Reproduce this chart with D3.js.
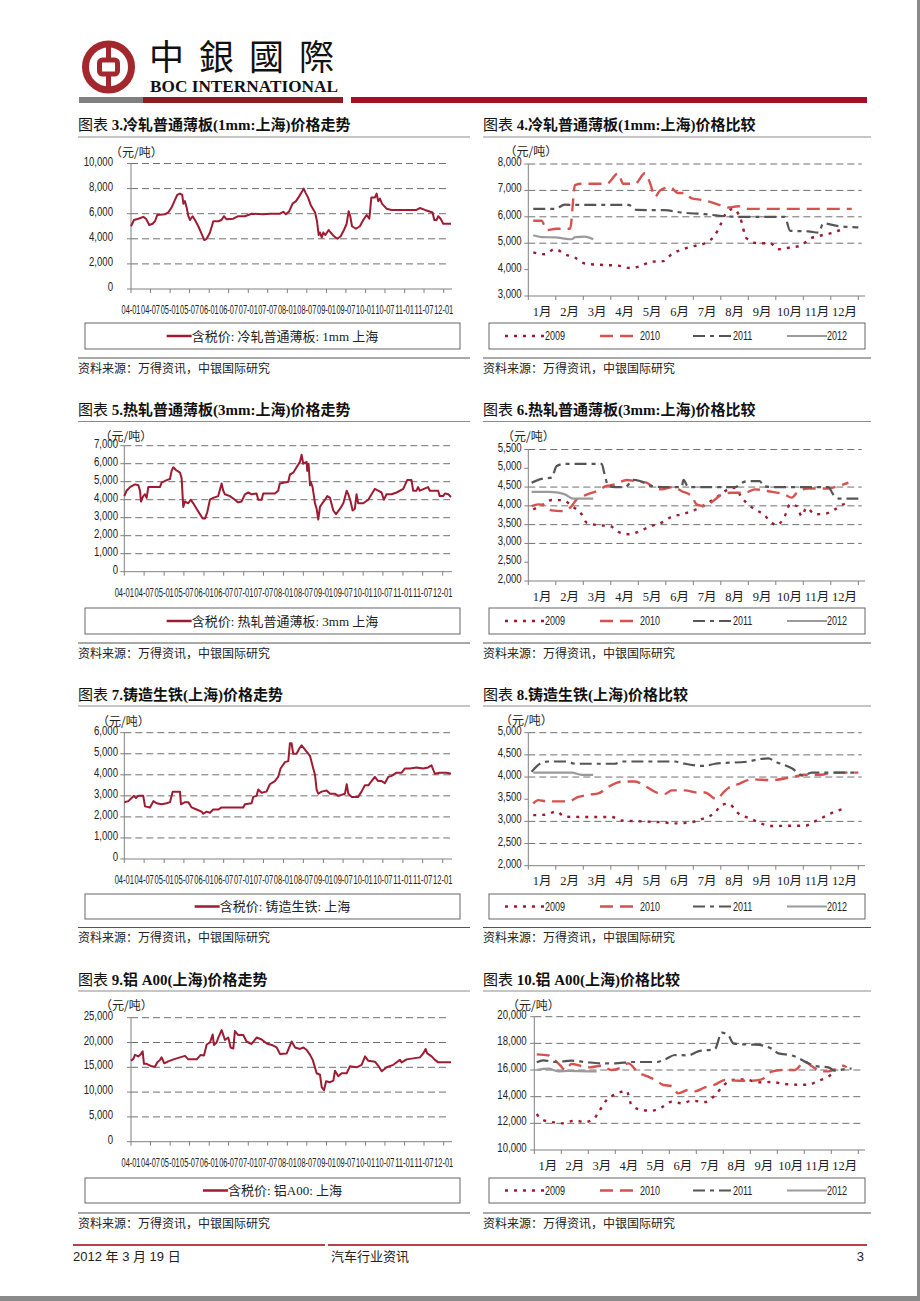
<!DOCTYPE html>
<html><head><meta charset="utf-8">
<script src="https://cdn.jsdelivr.net/npm/d3@7"></script>
<style>body{margin:0;background:#fff} svg{display:block}</style>
</head><body>
<script>
// ---------------- DATA ----------------
const dateTickLabels = ["04-01","04-07","05-01","05-07","06-01","06-07","07-01","07-07","08-01","08-07","09-01","09-07","10-01","10-07","11-01","11-07","12-01"];
const monthLabels = ["1月","2月","3月","4月","5月","6月","7月","8月","9月","10月","11月","12月"];
const yearLabels = ["2009","2010","2011","2012"];

const coldRolled1mm = [["2004-01-01",5000],["2004-01-29",5500],["2004-03-10",5600],["2004-04-25",5750],["2004-05-20",5600],["2004-06-20",5100],["2004-07-21",5200],["2004-08-12",5400],["2004-09-03",5900],["2004-11-13",5950],["2004-12-14",6100],["2005-01-15",6500],["2005-02-15",7100],["2005-03-08",7500],["2005-04-02",7600],["2005-04-24",7500],["2005-05-04",6800],["2005-05-19",7000],["2005-06-04",6500],["2005-06-20",5800],["2005-07-05",5500],["2005-07-30",5800],["2005-08-21",5500],["2005-09-21",5000],["2005-10-22",4400],["2005-11-16",3900],["2005-12-08",4000],["2006-01-08",4500],["2006-02-08",5400],["2006-03-26",5400],["2006-04-26",5500],["2006-05-18",5800],["2006-06-12",5550],["2006-08-13",5600],["2006-09-29",5800],["2006-11-30",5800],["2007-02-01",6000],["2007-05-21",5950],["2007-07-22",6000],["2007-10-24",6000],["2007-11-24",6150],["2007-12-19",5950],["2008-01-19",6200],["2008-02-19",6800],["2008-03-22",7000],["2008-04-22",7400],["2008-05-20",7800],["2008-06-02",8000],["2008-06-17",7700],["2008-07-12",7300],["2008-08-06",6700],["2008-09-16",6100],["2008-10-04",5400],["2008-10-20",4300],["2008-11-01",4500],["2008-11-17",4100],["2008-12-02",4500],["2008-12-21",4300],["2009-01-21",4700],["2009-02-09",4500],["2009-03-12",4200],["2009-04-12",4000],["2009-05-13",4200],["2009-06-13",4700],["2009-07-08",5200],["2009-07-27",6200],["2009-08-11",5800],["2009-08-27",5000],["2009-10-03",4800],["2009-11-09",5000],["2009-12-10",5500],["2010-01-11",5900],["2010-02-05",5600],["2010-02-24",7300],["2010-03-30",7300],["2010-04-14",7600],["2010-04-29",7000],["2010-05-15",7200],["2010-06-03",6800],["2010-07-16",6400],["2010-09-01",6300],["2011-04-22",6300],["2011-05-23",6450],["2011-07-09",6300],["2011-09-19",6100],["2011-10-05",5500],["2011-10-27",5500],["2011-11-11",5800],["2011-12-03",5600],["2011-12-28",5200],["2012-03-09",5200]];

const hotRolled3mm = [["2004-01-01",4200],["2004-01-22",4500],["2004-02-22",4700],["2004-04-08",4850],["2004-05-09",4800],["2004-05-24",4500],["2004-06-02",3900],["2004-06-23",4200],["2004-07-09",4300],["2004-07-24",4100],["2004-08-08",4700],["2004-11-23",4700],["2004-12-08",4950],["2005-01-30",5100],["2005-02-23",5150],["2005-03-10",5600],["2005-03-26",5800],["2005-04-19",5650],["2005-05-26",5500],["2005-06-10",5200],["2005-06-25",3600],["2005-07-10",3900],["2005-08-10",3800],["2005-09-01",4000],["2005-09-25",3800],["2005-10-25",3500],["2005-11-25",3200],["2005-12-20",2950],["2006-01-10",2950],["2006-01-31",3300],["2006-02-25",4000],["2006-03-27",4100],["2006-05-12",4200],["2006-06-12",4900],["2006-06-27",4500],["2006-07-12",4300],["2006-08-27",4200],["2006-10-12",4000],["2006-11-11",3850],["2006-12-12",3900],["2007-01-12",4300],["2007-02-12",4400],["2007-03-14",4300],["2007-04-29",4350],["2007-05-14",4000],["2007-06-14",4000],["2007-06-29",4350],["2007-10-14",4350],["2007-11-13",4500],["2007-11-28",4900],["2008-02-14",5000],["2008-02-29",5400],["2008-03-30",5500],["2008-04-30",5800],["2008-05-31",6100],["2008-06-15",6500],["2008-06-30",6000],["2008-07-31",6100],["2008-08-06",5600],["2008-08-18",6000],["2008-08-31",4800],["2008-09-06",5000],["2008-09-24",4700],["2008-10-16",3800],["2008-10-31",3500],["2008-11-15",2900],["2008-12-01",3600],["2008-12-22",3800],["2009-01-16",4000],["2009-02-06",4200],["2009-03-03",4100],["2009-04-02",3400],["2009-04-27",3200],["2009-06-03",3500],["2009-07-03",3800],["2009-08-03",4500],["2009-08-18",4300],["2009-09-08",3900],["2009-09-26",3400],["2009-10-17",3500],["2009-11-01",4300],["2009-11-16",3800],["2010-01-02",3800],["2010-02-17",4000],["2010-03-19",4300],["2010-04-18",4600],["2010-05-19",4500],["2010-06-19",4400],["2010-07-10",4000],["2010-08-04",4300],["2010-09-19",4300],["2010-11-04",4400],["2011-01-04",4600],["2011-02-10",5100],["2011-03-20",5100],["2011-04-05",4500],["2011-05-05",4500],["2011-05-20",4700],["2011-06-05",4500],["2011-08-20",4700],["2011-09-05",4500],["2011-11-20",4500],["2011-12-05",4200],["2012-01-06",4200],["2012-01-21",4350],["2012-02-21",4300],["2012-03-17",4150]];

const pigIron = [["2004-01-01",2700],["2004-02-07",2750],["2004-03-08",2900],["2004-03-30",3000],["2004-04-17",2900],["2004-05-09",3000],["2004-06-23",3000],["2004-07-09",2500],["2004-08-24",2450],["2004-09-24",2750],["2004-10-24",2650],["2004-12-08",2600],["2005-01-24",2650],["2005-02-23",2700],["2005-03-20",3200],["2005-05-26",3200],["2005-06-04",2600],["2005-07-10",2700],["2005-08-10",2700],["2005-09-10",2450],["2005-10-25",2350],["2005-12-10",2250],["2005-12-26",2150],["2006-01-25",2250],["2006-02-25",2200],["2006-03-27",2350],["2006-05-12",2350],["2006-06-12",2450],["2006-12-27",2450],["2007-01-12",2600],["2007-03-14",2650],["2007-03-29",2950],["2007-04-29",3000],["2007-05-14",3300],["2007-06-14",3150],["2007-07-29",3200],["2007-08-29",3550],["2007-10-14",3700],["2007-11-13",3900],["2007-12-05",4300],["2008-01-14",4600],["2008-02-14",4650],["2008-02-29",5500],["2008-03-15",5500],["2008-03-30",5000],["2008-04-30",5000],["2008-05-25",5250],["2008-06-15",5400],["2008-06-30",5300],["2008-07-31",5100],["2008-08-31",4900],["2008-09-30",4300],["2008-10-16",4000],["2008-10-31",3300],["2008-11-15",3100],["2008-12-16",3200],["2009-01-31",3250],["2009-03-03",3100],["2009-04-18",3100],["2009-05-18",3000],["2009-07-18",3100],["2009-08-03",3550],["2009-08-18",3100],["2009-09-17",2950],["2009-11-16",2950],["2009-12-17",3200],["2010-01-17",3500],["2010-02-17",3500],["2010-03-19",3700],["2010-04-18",3900],["2010-05-19",3700],["2010-06-19",3700],["2010-07-19",3600],["2010-08-19",3900],["2010-09-19",3950],["2010-11-04",4100],["2010-12-20",4100],["2011-01-20",4300],["2011-03-07",4300],["2011-05-05",4350],["2011-07-06",4300],["2011-08-20",4350],["2011-09-20",4450],["2011-10-21",4050],["2011-12-05",4100],["2012-02-06",4100],["2012-03-17",4050]];

const aluminumA00 = [["2004-01-01",16300],["2004-01-23",16700],["2004-02-07",17500],["2004-03-09",17200],["2004-03-31",17600],["2004-04-19",18200],["2004-05-01",15700],["2004-05-26",15700],["2004-07-12",15200],["2004-08-12",15100],["2004-09-03",16000],["2004-09-28",16500],["2004-10-13",17000],["2004-11-07",15800],["2004-12-14",16200],["2005-01-31",16600],["2005-04-03",17000],["2005-05-20",17300],["2005-06-20",16600],["2005-09-06",16600],["2005-10-13",17500],["2005-11-13",17400],["2005-12-08",19600],["2006-01-08",20000],["2006-02-02",21600],["2006-02-14",19500],["2006-03-11",20000],["2006-03-27",21000],["2006-04-27",22500],["2006-05-28",20500],["2006-06-28",21000],["2006-07-20",19000],["2006-08-14",18800],["2006-08-29",22300],["2006-09-29",21500],["2006-11-15",21500],["2006-12-16",20200],["2007-02-01",19700],["2007-03-20",21000],["2007-05-06",20600],["2007-06-22",19800],["2007-08-08",19500],["2007-09-23",19000],["2007-10-24",17700],["2007-12-26",17800],["2008-02-10",20200],["2008-03-13",19000],["2008-04-28",18700],["2008-05-30",19000],["2008-06-30",18500],["2008-07-31",17500],["2008-08-25",16500],["2008-10-01",13800],["2008-11-01",13500],["2008-11-17",11000],["2008-12-09",10400],["2008-12-28",12200],["2009-02-03",12000],["2009-03-06",12300],["2009-03-21",14300],["2009-04-21",13200],["2009-05-22",13800],["2009-07-08",13800],["2009-08-08",15200],["2009-10-10",15000],["2009-11-25",15500],["2009-12-27",17200],["2010-01-27",16300],["2010-03-31",16100],["2010-04-30",15300],["2010-06-01",14200],["2010-07-17",15000],["2010-09-17",15500],["2010-11-18",16500],["2010-12-04",16000],["2011-01-20",16600],["2011-05-24",17000],["2011-06-24",17800],["2011-07-16",18700],["2011-07-31",17800],["2011-09-10",17200],["2011-10-11",16500],["2011-11-11",16000],["2012-03-09",16000]];

// comparison charts: [month position (0 = start of Jan, 12 = end of Dec), price]
const cold2009 = [[0.18,4650],[0.6,4580],[0.97,4780],[1.33,4580],[1.7,4450],[2.06,4230],[2.48,4190],[2.85,4170],[3.27,4150],[3.7,4060],[4.06,4130],[4.48,4300],[4.91,4320],[5.21,4580],[5.64,4780],[6.06,4900],[6.42,5000],[6.79,5310],[6.99,5700],[7.15,6070],[7.45,6300],[7.7,5980],[7.94,5180],[8.36,5000],[8.79,5000],[9.09,4770],[9.58,4850],[9.88,4900],[10.3,5200],[10.67,5300],[11.09,5400],[11.52,5590]];
const cold2010 = [[0.18,5850],[0.48,5850],[0.67,5500],[1.03,5550],[1.52,5550],[1.7,7200],[1.94,7250],[2.85,7250],[3.27,7650],[3.45,7250],[3.88,7250],[4.24,7650],[4.42,7300],[4.61,6760],[4.79,7000],[5.15,7120],[5.45,6900],[5.7,6900],[5.94,6700],[6.3,6640],[6.67,6550],[7.03,6420],[7.27,6350],[7.64,6400],[8.0,6300],[11.76,6300]];
const cold2011 = [[0.18,6300],[0.97,6300],[1.33,6460],[1.7,6450],[3.64,6450],[3.94,6260],[4.97,6250],[5.58,6160],[6.42,6100],[7.03,6030],[7.76,6000],[9.33,6000],[9.52,5470],[10.18,5450],[10.55,5400],[10.73,5750],[11.27,5650],[12.0,5600]];
const cold2012 = [[0.18,5300],[0.48,5230],[0.97,5220],[1.58,5150],[1.7,5230],[2.06,5250],[2.36,5150]];

const hot2009 = [[0.18,3905],[0.55,4040],[0.85,4155],[1.27,4150],[1.58,3995],[1.94,3775],[2.12,3555],[2.55,3485],[2.97,3465],[3.27,3305],[3.7,3245],[4.06,3330],[4.48,3465],[4.85,3555],[5.21,3710],[5.58,3775],[5.94,3860],[6.24,3950],[6.55,4085],[6.91,4260],[7.27,4440],[7.52,4480],[7.76,4215],[8.0,4040],[8.24,3905],[8.55,3775],[8.85,3555],[9.03,3485],[9.33,3730],[9.52,4040],[9.76,3995],[9.94,3730],[10.12,3950],[10.42,3775],[10.85,3800],[11.15,3905],[11.45,4040],[11.58,4050]];
const hot2010 = [[0.12,3995],[0.36,4040],[0.67,3980],[0.85,3880],[1.21,3860],[1.52,3950],[1.76,4170],[2.12,4300],[2.48,4390],[2.85,4530],[3.15,4570],[3.58,4690],[3.88,4660],[4.3,4620],[4.48,4530],[4.85,4440],[5.27,4500],[5.58,4390],[5.94,4260],[6.12,4040],[6.42,3995],[6.79,4170],[7.03,4300],[7.39,4350],[7.88,4350],[8.24,4440],[8.73,4390],[9.33,4300],[9.58,4220],[9.82,4390],[10.18,4460],[10.91,4460],[11.27,4530],[11.64,4615]];
const hot2011 = [[0.12,4615],[0.48,4720],[0.85,4750],[1.03,5060],[1.33,5120],[2.67,5120],[2.76,4880],[2.91,4530],[3.15,4500],[3.52,4500],[3.82,4690],[4.06,4660],[4.48,4530],[4.85,4500],[5.58,4500],[5.64,4690],[5.82,4500],[7.52,4500],[7.76,4610],[8.0,4660],[8.42,4660],[8.55,4530],[8.85,4500],[10.91,4500],[11.09,4300],[11.33,4190],[12.0,4190]];
const hot2012 = [[0.12,4370],[0.73,4370],[1.09,4350],[1.33,4305],[1.64,4190],[2.36,4190]];

const iron2009 = [[0.18,3140],[0.61,3150],[1.03,3220],[1.33,3105],[1.94,3100],[3.03,3100],[3.39,3020],[4.12,3000],[4.85,2980],[5.33,2955],[5.82,2970],[6.3,3050],[6.79,3200],[7.03,3370],[7.27,3400],[7.64,3180],[8.12,3050],[8.48,2950],[8.85,2895],[9.58,2900],[10.06,2900],[10.42,3000],[10.91,3150],[11.15,3220],[11.58,3300]];
const iron2010 = [[0.18,3405],[0.36,3480],[0.67,3450],[1.45,3450],[1.82,3550],[2.18,3600],[2.55,3630],[2.91,3780],[3.39,3895],[3.88,3900],[4.24,3800],[4.67,3650],[4.97,3620],[5.21,3700],[5.7,3700],[6.12,3650],[6.42,3650],[6.85,3500],[7.09,3650],[7.27,3750],[7.64,3840],[8.12,3950],[8.85,3930],[9.58,4000],[10.06,4050],[10.67,4050],[11.03,4100],[12.0,4100]];
const iron2011 = [[0.12,4120],[0.48,4320],[0.73,4350],[1.33,4350],[1.7,4300],[3.15,4300],[3.39,4350],[5.33,4350],[5.7,4300],[6.42,4250],[6.79,4300],[8.0,4350],[8.36,4400],[8.73,4420],[8.97,4350],[9.58,4200],[10.0,4030],[10.3,4100],[12.0,4100]];
const iron2012 = [[0.18,4100],[1.58,4100],[1.94,4050],[2.36,4050]];

const alu2009 = [[0.09,12700],[0.27,12300],[0.64,12100],[1.01,12000],[1.51,12200],[1.88,12100],[2.19,12300],[2.43,13000],[2.68,13750],[2.99,14175],[3.42,14425],[3.6,13375],[3.98,13000],[4.35,12950],[4.72,13200],[5.09,13625],[5.46,13500],[5.83,13700],[6.32,13600],[6.69,14100],[7.0,14825],[7.31,15250],[7.8,15300],[8.3,15075],[8.79,15100],[9.28,14950],[9.78,14900],[10.15,14900],[10.52,15200],[10.89,15500],[11.07,15800]];
const alu2010 = [[0.09,17175],[0.52,17100],[0.77,16700],[0.95,16375],[1.14,16000],[1.38,16450],[1.75,16300],[2.06,16200],[2.49,16325],[2.86,16000],[3.23,16200],[3.48,16500],[3.85,15825],[4.22,15500],[4.53,15200],[4.78,14875],[5.09,14800],[5.33,14250],[5.7,14500],[5.95,14400],[6.32,14700],[6.69,14900],[7.06,15250],[7.56,15200],[8.05,15200],[8.42,15300],[8.79,15875],[9.16,16000],[9.65,16000],[10.02,16625],[10.27,16300],[10.64,15900],[10.89,15900],[11.2,16100],[11.44,16325],[11.57,16200]];
const alu2011 = [[0.09,16575],[0.33,16725],[0.77,16600],[1.38,16700],[1.88,16600],[2.49,16500],[2.99,16500],[3.6,16600],[4.53,16600],[4.84,16800],[5.21,17125],[5.7,17100],[6.07,17400],[6.69,17575],[6.94,18800],[7.19,18600],[7.37,18000],[7.68,17925],[8.17,17900],[8.54,17800],[8.79,17600],[9.04,17250],[9.53,17100],[9.78,16900],[10.15,16500],[10.4,16300],[10.89,16200],[11.14,15950],[11.63,16100],[11.75,16100]];
const alu2012 = [[0.09,16000],[0.52,16100],[0.89,15900],[1.26,15925],[2.0,15900],[2.31,15900]];

const yTicks3 = [0,2000,4000,6000,8000,10000];
const yTicks5 = [0,1000,2000,3000,4000,5000,6000,7000];
const yTicks7 = [0,1000,2000,3000,4000,5000,6000];
const yTicks9 = [0,5000,10000,15000,20000,25000];
const yTicks4 = [3000,4000,5000,6000,7000,8000];
const grid4 = [5000,6000,7000,8000];
const yTicks6 = [2000,2500,3000,3500,4000,4500,5000,5500];
const grid6 = [3000,3500,4000,4500,5500];
const yTicks8 = [2000,2500,3000,3500,4000,4500,5000];
const grid8 = [2500,3000,4000,4500,5000];
const yTicks10 = [10000,12000,14000,16000,18000,20000];
const grid10 = [12000,14000,16000,18000,20000];

// ---------------- DRAWING ----------------
const NUM = "'Liberation Sans', Arial, sans-serif";
const CJK = "'Noto Sans CJK SC', sans-serif";
const SERIFCJK = "'Liberation Serif', 'Noto Sans CJK SC', serif";
const SANSCJK = "'Liberation Sans', 'Noto Sans CJK SC', sans-serif";
const RED = "#9e1b32";
const TXT = "#222";
const parseDate = d3.timeParse("%Y-%m-%d");
const parseTick = s => new Date(2000 + +s.slice(0,2), +s.slice(3,5) - 1, 1);
const fmt = d3.format(",");

const svg = d3.select("body").append("svg").attr("width",920).attr("height",1301);
svg.append("rect").attr("width",920).attr("height",1301).attr("fill","#fff");

function condense(sel, f) {
  sel.each(function(){
    const w = this.getComputedTextLength();
    d3.select(this).attr("textLength", (w*f).toFixed(2)).attr("lengthAdjust","spacingAndGlyphs");
  });
}

// header
const hdr = svg.append("g");
const LOGO = "#a3282d";
hdr.append("circle").attr("cx",108.5).attr("cy",67).attr("r",23).attr("fill","none").attr("stroke",LOGO).attr("stroke-width",7);
hdr.append("rect").attr("x",99.5).attr("y",60).attr("width",18).attr("height",14).attr("rx",3).attr("fill","none").attr("stroke",LOGO).attr("stroke-width",5);
hdr.append("line").attr("x1",108.5).attr("x2",108.5).attr("y1",44).attr("y2",59).attr("stroke",LOGO).attr("stroke-width",5);
hdr.append("line").attr("x1",108.5).attr("x2",108.5).attr("y1",75).attr("y2",90).attr("stroke",LOGO).attr("stroke-width",5);
hdr.append("text").attr("x",149).attr("y",54).attr("dominant-baseline","central")
  .style("font-family","'Noto Sans CJK TC', sans-serif").style("font-size","35px").style("letter-spacing","15px").attr("fill","#111").text("中銀國際");
hdr.append("text").attr("x",150).attr("y",92).attr("textLength",188).attr("lengthAdjust","spacingAndGlyphs")
  .style("font-family","'Liberation Serif', serif").style("font-weight","bold").style("font-size","17px").attr("fill","#111").text("BOC INTERNATIONAL");
hdr.append("rect").attr("x",79).attr("y",97).attr("width",64).attr("height",6).attr("fill","#7f7f7f");
hdr.append("rect").attr("x",143).attr("y",97).attr("width",200).attr("height",6).attr("fill","#8b1d22");
hdr.append("rect").attr("x",351).attr("y",97).attr("width",516).attr("height",6).attr("fill","#a50f24");

// footer
svg.append("line").attr("x1",73).attr("x2",325).attr("y1",1245).attr("y2",1245).attr("stroke","#b8404c").attr("stroke-width",2);
svg.append("line").attr("x1",328).attr("x2",867).attr("y1",1245).attr("y2",1245).attr("stroke","#b8404c").attr("stroke-width",2);
const ft = svg.append("g").style("font-family",SANSCJK).style("font-size","13px").attr("fill",TXT);
ft.append("text").attr("x",73).attr("y",1261).text("2012 年 3 月 19 日");
ft.append("text").attr("x",331).attr("y",1261).text("汽车行业资讯");
ft.append("text").attr("x",864).attr("y",1261).attr("text-anchor","end").text("3");
svg.append("rect").attr("x",917).attr("y",0).attr("width",3).attr("height",1301).attr("fill","#8a8a8a");
svg.append("rect").attr("x",0).attr("y",1296).attr("width",920).attr("height",5).attr("fill","#8a8a8a");

// common frame: title, rules, unit, legend box, source
function frame(L, num, rest) {
  const g = svg.append("g");
  const t = g.append("text").attr("x",L.x0).attr("y",L.titleY).style("font-family",SERIFCJK).style("font-size","15px").attr("fill","#111");
  t.append("tspan").style("font-weight","normal").text("图表 ");
  t.append("tspan").style("font-weight","bold").text(num + "." + rest);
  g.append("line").attr("x1",L.x0).attr("x2",L.x1).attr("y1",L.ruleY).attr("y2",L.ruleY).attr("stroke","#8c8c8c").attr("stroke-width",1);
  g.append("text").attr("x",L.unitX).attr("y",L.unitY).style("font-family",CJK).style("font-size","12px").attr("fill",TXT).text("（元/吨）");
  g.append("rect").attr("x",L.lgX0).attr("y",L.lgTop).attr("width",L.lgX1-L.lgX0).attr("height",L.lgBot-L.lgTop)
    .attr("fill","none").attr("stroke","#666").attr("stroke-width",1);
  g.append("line").attr("x1",L.x0).attr("x2",L.x1).attr("y1",L.srcLine).attr("y2",L.srcLine).attr("stroke","#555").attr("stroke-width",1.2);
  g.append("text").attr("x",L.x0).attr("y",L.srcLine+14.5).style("font-family",CJK).style("font-size","12px").attr("fill",TXT).text("资料来源：万得资讯，中银国际研究");
  return g;
}

function yAxis(g, L, y, ticks, grids) {
  g.selectAll(null).data(grids).join("line")
    .attr("x1",L.axisX).attr("x2",L.gridR).attr("y1",d=>y(d)).attr("y2",d=>y(d))
    .attr("stroke","#707070").attr("stroke-width",1).attr("stroke-dasharray","7,4");
  g.append("line").attr("x1",L.axisX).attr("x2",L.axisX).attr("y1",L.top).attr("y2",L.bottom).attr("stroke","#808080");
  g.selectAll(null).data(ticks).join("line")
    .attr("x1",L.axisX-4).attr("x2",L.axisX).attr("y1",d=>y(d)).attr("y2",d=>y(d)).attr("stroke","#808080");
  const yl = g.selectAll(null).data(ticks).join("text")
    .attr("x",L.labelR).attr("y",d=>y(d)-2).attr("text-anchor","end").attr("dominant-baseline","central")
    .style("font-family",NUM).style("font-size","12px").attr("fill",TXT).text(d=>fmt(d));
  condense(yl, 0.8);
}

function longChart(L, num, rest, data, ticks, legendText) {
  const g = frame(L, num, rest);
  const x = d3.scaleTime().domain([parseTick(dateTickLabels[0]), parseTick(dateTickLabels[dateTickLabels.length-1])]).range([L.axisX, L.tickEndX]);
  const y = d3.scaleLinear().domain([0, d3.max(ticks)]).range([L.bottom, L.top]);
  yAxis(g, L, y, ticks, ticks.filter(v=>v>0));
  g.append("line").attr("x1",L.axisX).attr("x2",L.gridR+2).attr("y1",L.bottom).attr("y2",L.bottom).attr("stroke","#808080");
  g.selectAll(null).data(dateTickLabels).join("line")
    .attr("x1",d=>x(parseTick(d))).attr("x2",d=>x(parseTick(d))).attr("y1",L.bottom).attr("y2",L.bottom+4).attr("stroke","#808080");
  // date labels: horizontally compressed so neighbours just touch, as in the reference
  const step = (L.tickEndX - L.axisX) / (dateTickLabels.length - 1);
  g.selectAll(null).data(dateTickLabels).join("text")
    .attr("text-anchor","middle").attr("dominant-baseline","central")
    .style("font-family",NUM).style("font-size","12.5px").attr("fill",TXT).text(d=>d)
    .each(function(d){
      const w = this.getComputedTextLength();
      const s = (step - 0.6) / w;
      d3.select(this).attr("transform", `translate(${x(parseTick(d))},${L.bottom+21}) scale(${s.toFixed(3)},1)`);
    });
  g.append("path").datum(data)
    .attr("d", d3.line().x(d=>x(parseDate(d[0]))).y(d=>y(d[1])))
    .attr("fill","none").attr("stroke",RED).attr("stroke-width",2).attr("stroke-linejoin","round");
  // legend
  const cy = (L.lgTop + L.lgBot)/2;
  const lt = g.append("text").attr("y",cy).attr("dominant-baseline","central")
    .style("font-family",SERIFCJK).style("font-size","13px").attr("fill",TXT).text(legendText);
  const tw = lt.node().getComputedTextLength();
  const sx = (L.lgX0 + L.lgX1)/2 - (25 + tw)/2;
  g.append("line").attr("x1",sx).attr("x2",sx+25).attr("y1",cy).attr("y2",cy).attr("stroke",RED).attr("stroke-width",2.5);
  lt.attr("x", sx+25);
}

const yearStyle = {
  "2009": {color:"#9b1c31", dash:"3,6", w:2.4},
  "2010": {color:"#d5524f", dash:"13,7", w:2.4},
  "2011": {color:"#555555", dash:"12,5,4,5", w:2.2},
  "2012": {color:"#9a9a9a", dash:null, w:2.2}
};

function cmpChart(L, num, rest, seriesList, ticks, grids) {
  const g = frame(L, num, rest);
  const x = d3.scaleLinear().domain([0,12]).range([L.axisX, L.endX]);
  const y = d3.scaleLinear().domain([d3.min(ticks), d3.max(ticks)]).range([L.bottom, L.top]);
  yAxis(g, L, y, ticks, grids);
  g.append("line").attr("x1",L.axisX).attr("x2",L.axisEnd).attr("y1",L.bottom).attr("y2",L.bottom).attr("stroke","#808080");
  g.selectAll(null).data(d3.range(13)).join("line")
    .attr("x1",d=>x(d)).attr("x2",d=>x(d)).attr("y1",L.bottom).attr("y2",L.bottom+4).attr("stroke","#808080");
  g.selectAll(null).data(monthLabels).join("text")
    .attr("x",(d,i)=>x(i+0.5)).attr("y",L.bottom+15.5).attr("text-anchor","middle").attr("dominant-baseline","central")
    .style("font-family",SERIFCJK).style("font-size","12.5px").attr("fill",TXT).text(d=>d);
  const line = d3.line().x(d=>x(d[0])).y(d=>y(d[1])).curve(d3.curveMonotoneX);
  seriesList.forEach((s,i) => {
    const st = yearStyle[yearLabels[i]];
    g.append("path").datum(s).attr("d",line).attr("fill","none").attr("stroke",st.color)
      .attr("stroke-width",st.w).attr("stroke-dasharray",st.dash);
  });
  // legend
  const cy = (L.lgTop + L.lgBot)/2;
  const offs = [16, 111, 204, 298];
  yearLabels.forEach((yr,i) => {
    const st = yearStyle[yr];
    const sx = L.lgX0 + offs[i];
    g.append("line").attr("x1",sx).attr("x2",sx+40).attr("y1",cy).attr("y2",cy)
      .attr("stroke",st.color).attr("stroke-width",st.w).attr("stroke-dasharray",st.dash);
    const t = g.append("text").attr("x",sx+40).attr("y",cy).attr("dominant-baseline","central")
      .style("font-family",NUM).style("font-size","12px").attr("fill",TXT).text(yr);
    condense(t, 0.75);
  });
}

const LEFT = {x0:78, x1:470, lgX0:85, lgX1:460, gridR:450};
const RIGHT = {x0:483, x1:871, lgX0:489, lgX1:865, gridR:861.7, axisEnd:865};

longChart(Object.assign({}, LEFT, {titleY:129.5, ruleY:137, unitX:110, unitY:157, top:163.5, bottom:289, axisX:131, tickEndX:443.7, labelR:113, lgTop:323, lgBot:349, srcLine:358}),
  "3", "冷轧普通薄板(1mm:上海)价格走势", coldRolled1mm, yTicks3, "含税价: 冷轧普通薄板: 1mm 上海");
longChart(Object.assign({}, LEFT, {titleY:414.5, ruleY:421.5, unitX:99.5, unitY:441, top:445.7, bottom:571.7, axisX:124.3, tickEndX:442.7, labelR:118, lgTop:608, lgBot:634, srcLine:643}),
  "5", "热轧普通薄板(3mm:上海)价格走势", hotRolled3mm, yTicks5, "含税价: 热轧普通薄板: 3mm 上海");
longChart(Object.assign({}, LEFT, {titleY:699.5, ruleY:706, unitX:97, unitY:726, top:732.7, bottom:859, axisX:124.3, tickEndX:442.7, labelR:118, lgTop:894, lgBot:919, srcLine:927.5}),
  "7", "铸造生铁(上海)价格走势", pigIron, yTicks7, "含税价: 铸造生铁: 上海");
longChart(Object.assign({}, LEFT, {titleY:984.5, ruleY:991, unitX:100, unitY:1010, top:1017.7, bottom:1141.7, axisX:131, tickEndX:443.7, labelR:113, lgTop:1178, lgBot:1203, srcLine:1213}),
  "9", "铝 A00(上海)价格走势", aluminumA00, yTicks9, "含税价: 铝A00: 上海");

cmpChart(Object.assign({}, RIGHT, {titleY:129.5, ruleY:137, unitX:504.5, unitY:156, top:164, bottom:296, axisX:528.3, endX:858.3, labelR:521.7, lgTop:323, lgBot:349, srcLine:358}),
  "4", "冷轧普通薄板(1mm:上海)价格比较", [cold2009, cold2010, cold2011, cold2012], yTicks4, grid4);
cmpChart(Object.assign({}, RIGHT, {titleY:414.5, ruleY:421.5, unitX:502, unitY:441, top:449.5, bottom:581, axisX:528.3, endX:858.3, labelR:521.7, lgTop:608, lgBot:634, srcLine:643}),
  "6", "热轧普通薄板(3mm:上海)价格比较", [hot2009, hot2010, hot2011, hot2012], yTicks6, grid6);
cmpChart(Object.assign({}, RIGHT, {titleY:699.5, ruleY:706, unitX:500, unitY:725, top:732.7, bottom:865.7, axisX:528.3, endX:858.3, labelR:521.7, lgTop:894, lgBot:919, srcLine:927.5}),
  "8", "铸造生铁(上海)价格比较", [iron2009, iron2010, iron2011, iron2012], yTicks8, grid8);
cmpChart(Object.assign({}, RIGHT, {titleY:984.5, ruleY:991, unitX:507, unitY:1010, top:1016.7, bottom:1150, axisX:534.3, endX:858.3, labelR:526.7, lgTop:1178, lgBot:1203, srcLine:1213}),
  "10", "铝 A00(上海)价格比较", [alu2009, alu2010, alu2011, alu2012], yTicks10, grid10);
</script>
</body></html>
